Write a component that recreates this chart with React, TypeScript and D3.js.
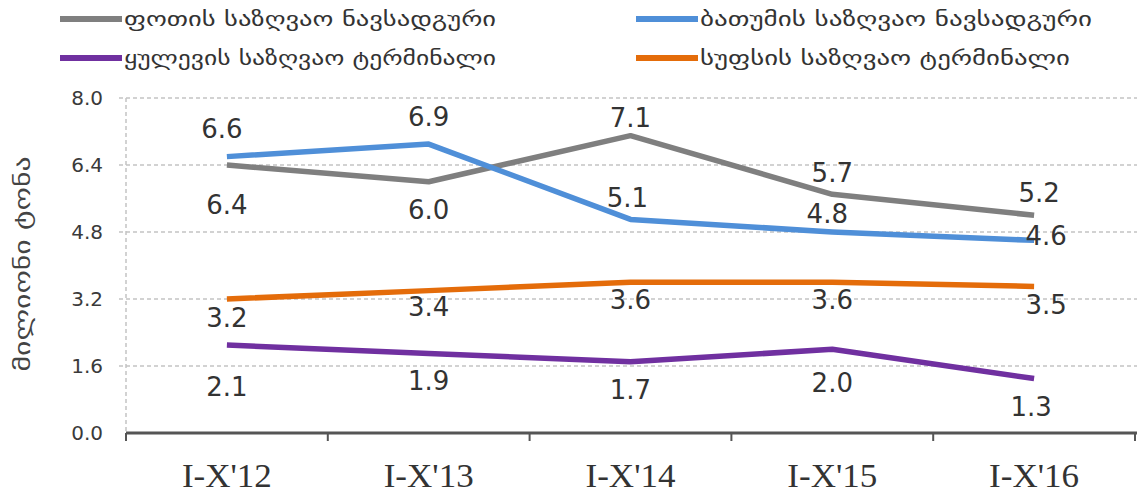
import React from "react";
import * as d3 from "d3";

const categories = ["I-X'12", "I-X'13", "I-X'14", "I-X'15", "I-X'16"];
const potiValues = [6.4, 6.0, 7.1, 5.7, 5.2];
const batumiValues = [6.6, 6.9, 5.1, 4.8, 4.6];
const kuleviValues = [2.1, 1.9, 1.7, 2.0, 1.3];
const supsaValues = [3.2, 3.4, 3.6, 3.6, 3.5];
const yTicks = [0, 1.6, 3.2, 4.8, 6.4, 8.0];
const seriesNames = [
  "ფოთის საზღვაო ნავსადგური",
  "ბათუმის საზღვაო ნავსადგური",
  "ყულევის საზღვაო ტერმინალი",
  "სუფსის საზღვაო ტერმინალი",
];
const yTitle = "მილიონი ტონა";

// label placement offsets (styling, px)
const potiLabelOff = [[0, 40], [0, 28], [0, -18], [0, -21], [5, -22]];
const batumiLabelOff = [[-5, -28], [0, -27], [-3, -21], [-5, -18], [12, -4]];
const kuleviLabelOff = [[0, 42], [0, 28], [0, 28], [0, 34], [-3, 28]];
const supsaLabelOff = [[0, 19], [0, 16], [0, 18], [0, 18], [12, 19]];

const series = [
  { name: seriesNames[0], values: potiValues, color: "#7f7f7f", off: potiLabelOff },
  { name: seriesNames[1], values: batumiValues, color: "#4f8fd8", off: batumiLabelOff },
  { name: seriesNames[2], values: kuleviValues, color: "#7030a0", off: kuleviLabelOff },
  { name: seriesNames[3], values: supsaValues, color: "#e46c0a", off: supsaLabelOff },
];

const legendPos = [
  { x: 60, y: 19 },
  { x: 636, y: 19 },
  { x: 60, y: 58 },
  { x: 636, y: 58 },
];
const legendTextLen = [372, 392, 372, 370];

export default function App() {
  const W = 1137;
  const H = 495;
  const x = d3.scaleBand<string>().domain(categories).range([126, 1135]);
  const y = d3.scaleLinear().domain([0, 8]).range([433, 98]);
  const cx = (c: string) => (x(c) as number) + x.bandwidth() / 2;
  const line = d3
    .line<number>()
    .x((_, i) => cx(categories[i]))
    .y((v) => y(v));
  const labelFont = "'DejaVu Sans', Verdana, sans-serif";

  return (
    <svg
      width={W}
      height={H}
      style={{ position: "absolute", left: 0, top: 0, background: "#fff" }}
    >
      {/* gridlines */}
      {yTicks.slice(1).map((t) => (
        <line
          key={t}
          x1={119}
          x2={1137}
          y1={y(t)}
          y2={y(t)}
          stroke="#c4c4c4"
          strokeWidth={1.5}
          strokeDasharray="4 3"
        />
      ))}
      {/* y axis dashed */}
      <line x1={126} x2={126} y1={y(8)} y2={y(0)} stroke="#c4c4c4" strokeWidth={1.5} strokeDasharray="4 3" />
      {/* y tick labels */}
      {yTicks.map((t) => (
        <text
          key={t}
          x={103}
          y={y(t)}
          textAnchor="end"
          dominantBaseline="central"
          fontFamily={labelFont}
          fontSize={20}
          fill="#3a3a3a"
        >
          {t.toFixed(1)}
        </text>
      ))}
      {/* y title */}
      <text
        transform={`translate(22, ${264}) rotate(-90)`}
        textAnchor="middle"
        dominantBaseline="central"
        fontFamily={labelFont}
        fontSize={22}
        textLength={215}
        lengthAdjust="spacingAndGlyphs"
        fill="#444"
      >
        {yTitle}
      </text>
      {/* x axis */}
      <line x1={126} x2={1137} y1={y(0)} y2={y(0)} stroke="#555" strokeWidth={3} />
      {categories.map((c) => (
        <line key={c} x1={x(c) as number} x2={x(c) as number} y1={y(0)} y2={y(0) + 8} stroke="#555" strokeWidth={2} />
      ))}
      <line x1={1135} x2={1135} y1={y(0)} y2={y(0) + 8} stroke="#555" strokeWidth={2} />
      {categories.map((c) => (
        <text
          key={c}
          x={cx(c)}
          y={487}
          textAnchor="middle"
          fontFamily="'Liberation Serif', serif"
          fontSize={34}
          textLength={90}
          lengthAdjust="spacingAndGlyphs"
          fill="#333"
        >
          {c}
        </text>
      ))}
      {/* lines */}
      {series.map((s) => (
        <path
          key={s.name}
          d={line(s.values) as string}
          fill="none"
          stroke={s.color}
          strokeWidth={5.5}
          strokeLinejoin="round"
        />
      ))}
      {/* labels */}
      {series.map((s) =>
        s.values.map((v, i) => (
          <text
            key={s.name + i}
            x={cx(categories[i]) + s.off[i][0]}
            y={y(v) + s.off[i][1]}
            textAnchor="middle"
            dominantBaseline="central"
            fontFamily={labelFont}
            fontSize={26}
            fill="#333"
          >
            {v.toFixed(1)}
          </text>
        ))
      )}
      {/* legend */}
      {series.map((s, i) => (
        <g key={"lg" + i}>
          <line
            x1={legendPos[i].x}
            x2={legendPos[i].x + 62}
            y1={legendPos[i].y}
            y2={legendPos[i].y}
            stroke={s.color}
            strokeWidth={6}
          />
          <text
            x={legendPos[i].x + 64}
            y={legendPos[i].y}
            dominantBaseline="central"
            fontFamily={labelFont}
            fontSize={20}
            textLength={legendTextLen[i]}
            lengthAdjust="spacingAndGlyphs"
            fill="#333"
          >
            {s.name}
          </text>
        </g>
      ))}
    </svg>
  );
}
